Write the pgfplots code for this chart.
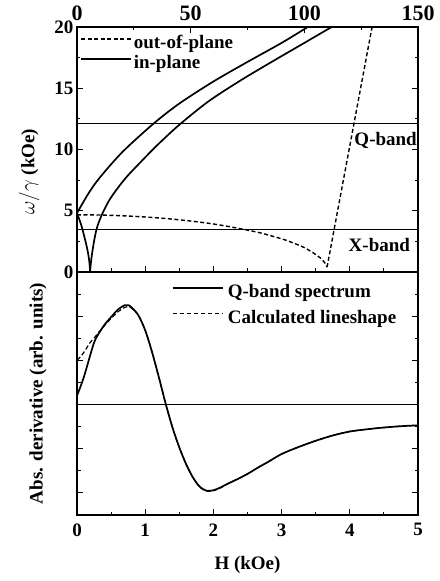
\documentclass[border=0pt]{standalone}
\usepackage{fontspec}
\setmainfont{Liberation Serif}
\usepackage{pgfplots}
\pgfplotsset{compat=1.18}
\begin{document}
\begin{tikzpicture}
\path[use as bounding box] (-77bp,-66bp) rectangle (363bp,515bp);
\pgfplotsset{
  base/.style={
    scale only axis, width=341bp,
    font=\fontsize{19bp}{22bp}\selectfont\bfseries,
    /pgf/number format/assume math mode=true,
    tick align=inside,
    axis line style={line width=1.5bp},
    every tick/.style={black, line width=1.1bp},
    major tick length=6bp, minor tick length=3.5bp,
    legend image code/.code={\draw[##1] (0bp,5bp) -- (50bp,5bp);},
  },
}
% ---------------- bottom panel ----------------
\begin{axis}[base, at={(0,0)}, anchor=south west, height=243bp,
  xmin=0, xmax=5, ymin=-2.5, ymax=3,
  xtick={0,1,2,3,4,5}, minor xtick={0.5,1.5,2.5,3.5,4.5}, xtick pos=bottom,
  ytick={-2,-1,1,2}, minor ytick={-1.5,-0.5,0.5,1.5,2.5}, yticklabels={},
  xticklabel style={yshift=-5bp},
  xlabel={H (kOe)}, ylabel={Abs. derivative (arb. units)},
  every axis x label/.style={at={(axis description cs:0.5,-0.205)}, anchor=center},
  every axis y label/.style={at={(axis description cs:-0.114,0.5)}, anchor=center, rotate=90},
  legend style={draw=none, fill=none, at={(axis description cs:0.277,0.957)}, anchor=north west,
    inner sep=0pt, row sep=6bp, /tikz/column sep=3bp,
    nodes={inner sep=1.5bp, text height=13bp, text depth=4bp}},
  legend cell align=left,
]
\addplot[black, line width=1.7bp, smooth, tension=0.5] coordinates {
(0,0.2) (0.05,0.4) (0.1,0.62) (0.15,0.88) (0.2,1.15) (0.25,1.4) (0.3,1.56) (0.4,1.8) (0.5,1.98)
(0.6,2.15) (0.7,2.25) (0.75,2.25) (0.8,2.2) (0.9,2.02) (1.0,1.68) (1.1,1.19) (1.2,0.62) (1.3,0.02)
(1.4,-0.52) (1.5,-0.97) (1.6,-1.35) (1.7,-1.65) (1.8,-1.86) (1.9,-1.95) (2.0,-1.94) (2.1,-1.88)
(2.2,-1.8) (2.35,-1.69) (2.5,-1.57) (2.65,-1.43) (2.8,-1.3) (3.0,-1.12) (3.25,-0.96) (3.5,-0.82)
(3.75,-0.7) (4.0,-0.61) (4.25,-0.56) (4.5,-0.52) (4.75,-0.49) (5.0,-0.47)};
\addlegendentry{Q-band spectrum}
\addplot[black, line width=1.2bp, dash pattern=on 4.5bp off 2.5bp, smooth, tension=0.5] coordinates {
(0,1.0) (0.05,1.08) (0.1,1.18) (0.15,1.3) (0.2,1.42) (0.25,1.5) (0.3,1.6) (0.4,1.78) (0.5,1.95)
(0.6,2.1) (0.7,2.2) (0.75,2.22) (0.8,2.18) (0.9,2.02) (1.0,1.68) (1.1,1.19) (1.2,0.62) (1.3,0.02)
(1.4,-0.52) (1.5,-0.97) (1.6,-1.35) (1.7,-1.65) (1.8,-1.87) (1.9,-1.96) (2.0,-1.95) (2.1,-1.89)
(2.2,-1.8) (2.35,-1.69) (2.5,-1.57) (2.65,-1.43) (2.8,-1.3) (3.0,-1.12) (3.25,-0.96) (3.5,-0.82)
(3.75,-0.7) (4.0,-0.61) (4.25,-0.56) (4.5,-0.52) (4.75,-0.49) (5.0,-0.47)};
\addlegendentry{Calculated lineshape}
\addplot[black, line width=1bp, forget plot] coordinates {(0,0) (5,0)};
\end{axis}
% ---------------- top panel ----------------
\begin{axis}[base, at={(0,243bp)}, anchor=south west, height=245bp,
  xmin=0, xmax=150, ymin=0, ymax=20,
  xtick={0,30,60,90,120,150}, minor xtick={15,45,75,105,135}, xtick pos=bottom, xticklabels={},
  ytick={0,5,10,15,20}, minor ytick={2.5,7.5,12.5,17.5},
  ylabel={$\omega/\gamma$ (kOe)},
  every axis y label/.style={at={(axis description cs:-0.14,0.41)}, anchor=center, rotate=90},
  legend style={draw=none, fill=none, at={(axis description cs:0.01,0.973)}, anchor=north west,
    inner sep=0pt, row sep=0bp, /tikz/column sep=0bp,
    nodes={inner sep=1.5bp, text height=13bp, text depth=4bp}},
  legend cell align=left,
]
\addplot[black, line width=1.4bp, dash pattern=on 4bp off 2.5bp, smooth, tension=0.5] coordinates {
(0,4.67) (10,4.65) (20,4.59) (30,4.49) (40,4.35) (50,4.16) (60,3.92) (70,3.6) (80,3.22)
(90,2.71) (95,2.38) (100,1.99) (104,1.55) (107,1.15) (109,0.75) (110,0.4)};
\addlegendentry{out-of-plane}
\addplot[black, line width=1.7bp, smooth, tension=0.5] coordinates {
(0,4.8) (5,6.4) (10,7.7) (20,9.8) (33.6,12.1) (45,13.75) (60,15.55) (75,17.15) (90,18.7) (101.5,20)};
\addlegendentry{in-plane}
\addplot[black, line width=1.4bp, dash pattern=on 4bp off 2.5bp, forget plot] coordinates {
(110,0.4) (129.8,20)};
\addplot[black, line width=1.7bp, smooth, tension=0.5, forget plot] coordinates {
(0,4.8) (2,3.75) (4,2.3) (5,1.4) (5.5,0.7) (5.75,0)};
\addplot[black, line width=1.7bp, smooth, tension=0.5, forget plot] coordinates {
(5.75,0) (6.2,0.9) (7,1.95) (8,3.0) (9,3.75) (11,4.7)
(14,5.8) (17.5,6.75) (22,7.8) (28.4,9.05) (35,10.3) (44.9,12.0) (58,13.95) (72.5,15.7) (87,17.3)
(100,18.7) (112,20)};
\addplot[black, line width=1bp, forget plot] coordinates {(0,12.1) (150,12.1)};
\addplot[black, line width=1bp, forget plot] coordinates {(0,3.5) (150,3.5)};
\node[anchor=base east, inner sep=1bp] at (rel axis cs:1,0.518) {Q-band};
\node[anchor=base east, inner sep=1bp] at (rel axis cs:0.98,0.082) {X-band};
\end{axis}
% top tick labels (0..150)
\begin{axis}[base, at={(0,243bp)}, anchor=south west, height=245bp,
  xmin=0, xmax=150, ymin=0, ymax=20,
  axis x line*=top, axis y line=none,
  xtick={0,50,100,150}, minor xtick={25,75,125}, tick align=inside,
  xticklabel style={yshift=3bp, font=\fontsize{22bp}{24bp}\selectfont\bfseries},
]
\addplot[draw=none] coordinates {(0,0) (150,20)};
\end{axis}
\end{tikzpicture}
\end{document}
